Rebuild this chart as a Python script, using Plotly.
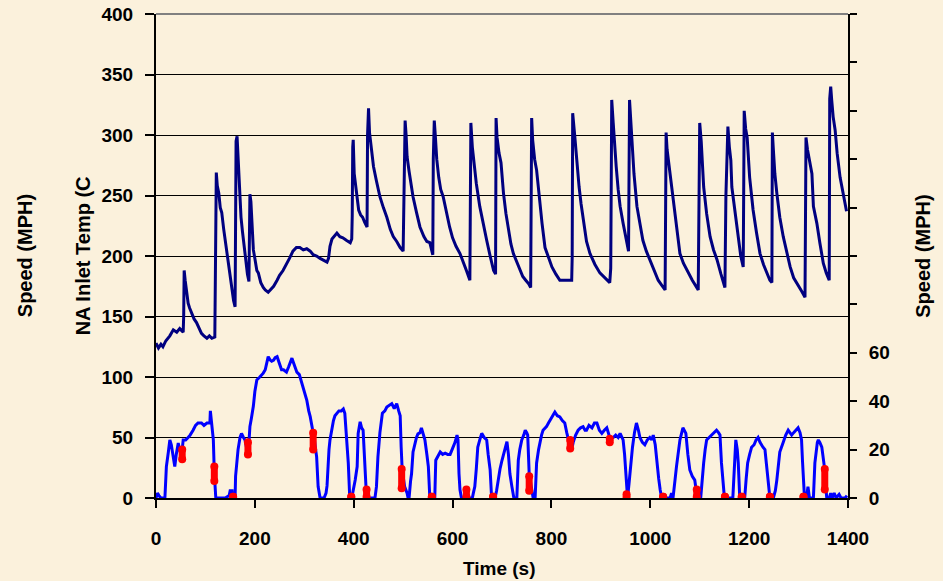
import plotly.graph_objects as go

# ---------------- data ----------------
temp_t = [0,5,10,14,20,28,35,42,48,55,
          56,57,59,62,65,68,72,77,82,87,92,97,103,108,113,119,
          120,121,122,124,127,130,133,137,141,146,150,154,157,160,
          161,162,164,166,168,170,172,175,177,180,182,185,188,
          189,190,192,194,197,200,204,207,212,217,221,227,232,238,245,250,257,264,270,277,284,291,298,305,312,318,325,332,340,346,349,
          352,356,360,366,372,378,385,393,396,397,
          398,399,401,404,407,410,414,418,422,427,
          428,430,432,436,440,446,453,460,467,474,480,487,494,500,
          502,504,506,508,512,516,520,527,534,542,548,554,560,
          561,563,565,568,572,576,581,587,594,600,607,615,622,628,635,
          636,637,640,643,648,655,662,669,676,683,687,
          688,690,694,698,703,708,713,718,723,730,736,742,748,754,758,
          760,762,766,770,775,781,787,794,801,809,817,825,833,841,842,
          843,847,851,856,860,864,871,878,888,898,908,918,920,
          922,925,928,931,935,939,945,952,956,
          958,961,964,967,973,979,985,992,999,1007,1016,1023,1030,
          1032,1034,1040,1046,1053,1060,1067,1074,1085,1097,
          1099,1100,1103,1105,1108,1114,1121,1128,1135,1143,1151,
          1153,1155,1157,1160,1163,1165,1172,1178,1183,1188,
          1190,1193,1196,1201,1208,1215,1222,1229,1236,1242,1246,
          1247,1249,1252,1256,1262,1269,1276,1283,1290,1298,1306,1313,
          1315,1318,1322,1327,1330,1337,1343,1350,1356,1362,
          1363,1365,1367,1370,1374,1378,1384,1389,1393,1397]
temp_c = [128,124,127,125,130,134,139,137,140,137,
          150,188,180,170,161,157,153,148,145,140,136,134,132,134,132,133,
          200,262,269,258,252,240,236,222,210,198,185,172,163,158,
          220,295,299,280,265,240,232,220,213,200,191,185,179,
          200,251,245,230,205,198,188,186,178,174,172,170,172,175,180,184,188,193,198,204,207,207,205,206,204,201,200,198,196,195,198,
          208,214,216,219,216,215,213,211,214,233,
          290,296,268,258,250,238,234,232,228,224,
          300,322,302,287,274,262,249,240,232,222,216,212,207,204,
          280,312,300,282,270,260,249,236,224,216,212,211,201,
          280,312,300,280,265,255,249,236,224,215,208,202,195,188,180,
          260,310,290,279,260,241,226,213,200,188,185,
          314,298,285,277,252,235,221,210,202,195,190,183,180,177,174,
          314,296,280,271,249,227,207,198,191,185,180,180,180,180,199,
          318,300,279,257,243,230,212,202,193,186,182,178,190,
          329,310,290,274,255,241,227,211,204,
          329,305,285,268,241,226,213,204,197,188,180,176,172,
          302,288,268,249,224,202,194,188,180,172,
          300,310,295,282,257,235,216,205,197,185,174,
          250,279,307,290,279,257,235,216,200,191,
          320,305,298,265,238,219,202,193,186,180,178,
          302,288,268,252,232,216,202,191,182,177,171,166,
          298,288,280,268,241,227,211,194,186,180,
          330,340,329,315,304,285,265,254,245,237]

speed_t = [0,3,6,10,18,19,21,25,28,31,35,38,41,45,49,52,55,60,65,69,75,80,85,92,97,103,109,110,112,115,116,118,120,121,
           140,148,150,154,155,160,161,166,170,173,177,180,184,186,188,190,193,197,200,204,210,217,221,224,227,231,234,238,241,245,
           249,254,258,264,268,272,275,278,281,285,290,294,298,302,305,309,312,317,320,323,325,328,332,
           340,344,346,348,350,352,355,359,362,366,370,375,379,382,386,389,392,396,403,407,409,411,413,416,419,421,423,426,
           443,446,449,453,458,463,467,472,477,482,487,491,494,496,498,503,508,510,512,515,517,520,524,527,530,534,537,540,544,548,551,554,
           564,566,570,575,580,585,590,595,598,601,605,609,611,613,615,618,640,642,645,648,651,655,659,664,669,672,676,679,
           686,689,692,696,700,703,706,710,713,716,720,724,730,733,736,740,744,747,750,752,755,758,760,763,
           767,770,774,777,780,783,787,790,794,797,801,807,812,817,822,827,831,834,838,841,844,849,854,859,864,868,871,876,882,887,892,897,902,907,912,918,925,930,935,939,945,948,950,952,954,
           957,960,964,968,972,976,979,984,989,994,999,1003,1006,1010,1013,1017,1020,1023,1040,1043,1046,1048,1050,1053,1056,1060,1066,1069,1072,1076,1080,1085,1090,1093,1095,
           1102,1104,1108,1111,1114,1119,1124,1129,1134,1138,1141,1144,1148,1150,1167,1169,1171,1173,1176,1178,1181,
           1191,1194,1197,1201,1205,1210,1214,1218,1222,1228,1232,1235,1238,1242,1249,1253,1256,1259,1262,1269,1274,1279,1283,1286,1290,1295,1299,1303,1306,1308,1310,1312,
           1316,1319,1322,1330,1333,1336,1338,1340,1343,1347,1350,1353,1355,1357,1362,1365,1368,1372,1376,1382,1386,1394,1398]
speed_mph = [0,2,1,0,0,8,13,19,24,22,17,13,18,22.7,19,18,24,24,25,26,28,30,31,31,30,31,31,36,32,25,24,10,3,0,
             0,1,3,3,0,0,9,20,25,26.7,25,24,20,17,23,29.5,33,38,44,48.8,50,51.6,53,55.8,58.4,57,56.5,57,58,58.4,
             56,53,53,52,54,56,57.8,56,54.4,52,51,48,46,43,40.5,36,33.6,28,25,20,17,4.7,0,
             0,2,5,15.6,20,24,28,32,34,35,36,36,36.8,35,24,14.5,0,0,7.4,13,26.7,29,31.5,29,28,20,11.6,0,
             0,4.7,17,27,35,36,37.6,38.5,39,37,39,36,34,21,12,4.7,2,0,0,7,10,19,23,25,26.5,27,29,27,24,18,13,0,
             0,15.6,17,19,18,18.5,18,18,19.5,21,23,26,24,10,3.4,0,0,2,4.7,12,21,24,26.7,25,24,18,11.6,0,
             0,3,7.4,12,15.6,18,21,23.3,18,10,4.7,0,0,15.6,20,24,26,28,27,26,10,6,3.4,0,
             0,14.5,20,24,26,28,29,29.5,31,32,33,35.5,34,33.5,32,31,27,24,21,20,23,26,28,29,29.5,28,28,30,29,31,31,28,26.7,28,29,25,25,26,25,26.7,24,18,10,3.4,0,
             6,14,21,27,31,28,25,23,22,24,25,24,26,22,14.5,8,3.4,0,0,2,0,3,7.4,13,19,24,29,28,26.7,18,11.6,9,7.4,3,0,
             0,6,14.5,20,24,25,26,27,28,27,26,14.5,3.4,0,0,10,20,24,20,14.5,0,
             0,8,14.5,18,21,22,24,25,23,21,20,14,7.4,0,0,3,7.4,14,19,23,26,28,27,26,27,28,29,27,24,15,7.4,0,
             0,4.7,0,0,14.5,20,23,24,23,21,17,11.6,5,0,0,2,0,2,0,1.5,0,0,1]

# red highlighted events on the speed trace: time, low and high speed
red_t = [53,118,156,186,318,395,426,497,558,628,682,755,838,918,952,1026,1094,1151,1185,1242,1310,1353]
red_lo = [16,7,0.5,18,20,0.5,0.5,4,0.5,0.5,0.5,3,20.5,23,0.5,0.5,0.5,0.5,0.5,0.5,0.5,3.5]
red_hi = [20,13,0.5,23,27,0.5,3.5,12,0.5,3.5,0.5,9,24,24.5,1.5,0.5,3.5,0.5,0.5,0.5,0.5,12]

x_ticks = list(range(0, 1401, 200))
temp_ticks = list(range(0, 401, 50))
speed_ticks = list(range(0, 201, 20))
speed_labels = ["0", "20", "40", "60"] + [""] * 7

# -------------- figure --------------
BG = "#FBF1DC"
FONT = "Liberation Sans, Arial, sans-serif"

rx, ry = [], []
for t, lo, hi in zip(red_t, red_lo, red_hi):
    rx += [t, t, None]
    ry += [lo, hi, None]

fig = go.Figure()
fig.add_trace(go.Scatter(x=temp_t, y=temp_c, mode="lines",
                         line=dict(color="#000080", width=3), yaxis="y", showlegend=False))
fig.add_trace(go.Scatter(x=speed_t, y=speed_mph, mode="lines",
                         line=dict(color="#0000FF", width=3), yaxis="y2", showlegend=False))
fig.add_trace(go.Scatter(x=rx, y=ry, mode="lines+markers",
                         line=dict(color="#FF0000", width=7),
                         marker=dict(color="#FF0000", size=8), yaxis="y2", showlegend=False))

tickfont = dict(family=FONT, size=19, color="black", weight="bold")
titlefont = dict(family=FONT, size=20, color="black", weight="bold")

fig.update_layout(
    width=943, height=581,
    margin=dict(l=156, r=95, t=14, b=83, autoexpand=False),
    paper_bgcolor=BG, plot_bgcolor=BG,
    xaxis=dict(range=[0, 1400], tickvals=x_ticks, ticks="outside", ticklen=8, tickwidth=2,
               tickcolor="black", showline=True, linecolor="black", linewidth=2,
               showgrid=False, zeroline=False, tickfont=tickfont, ticklabelstandoff=14,
               automargin=False),
    yaxis=dict(range=[0, 400], tickvals=temp_ticks, ticks="outside", ticklen=9, tickwidth=2,
               tickcolor="black", showline=True, linecolor="black", linewidth=2,
               showgrid=True, gridcolor="black", gridwidth=1, zeroline=False,
               tickfont=tickfont, ticklabelstandoff=8, automargin=False),
    yaxis2=dict(range=[0, 200], overlaying="y", side="right", anchor="x",
                tickvals=speed_ticks, ticktext=speed_labels, ticks="outside", ticklen=7,
                tickwidth=2, tickcolor="black", showline=True, linecolor="black", linewidth=2,
                showgrid=False, zeroline=False, tickfont=tickfont, ticklabelstandoff=8,
                automargin=False),
    yaxis3=dict(range=[0, 200], overlaying="y", side="right", anchor="x",
                tickvals=speed_ticks, ticks="inside", ticklen=8, tickwidth=2, tickcolor="black",
                showticklabels=False, showline=False, showgrid=False, zeroline=False,
                automargin=False),
    shapes=[dict(type="line", xref="paper", yref="paper", x0=0, x1=1, y0=1, y1=1,
                 line=dict(color="#808080", width=2), layer="above")],
    annotations=[
        dict(text="Time (s)", xref="paper", yref="paper", x=0.497, y=-0.146,
             showarrow=False, xanchor="center", yanchor="middle",
             font=dict(family=FONT, size=19, color="black", weight="bold")),
        dict(text="Speed (MPH)", xref="paper", yref="paper", x=-0.189, y=0.5,
             textangle=-90, showarrow=False, xanchor="center", yanchor="middle",
             font=titlefont),
        dict(text="NA Inlet Temp (C", xref="paper", yref="paper", x=-0.105, y=0.5,
             textangle=-90, showarrow=False, xanchor="center", yanchor="middle",
             font=titlefont),
        dict(text="Speed (MPH)", xref="paper", yref="paper", x=1.108, y=0.5,
             textangle=-90, showarrow=False, xanchor="center", yanchor="middle",
             font=titlefont),
    ],
)

fig.write_html("out.html")
